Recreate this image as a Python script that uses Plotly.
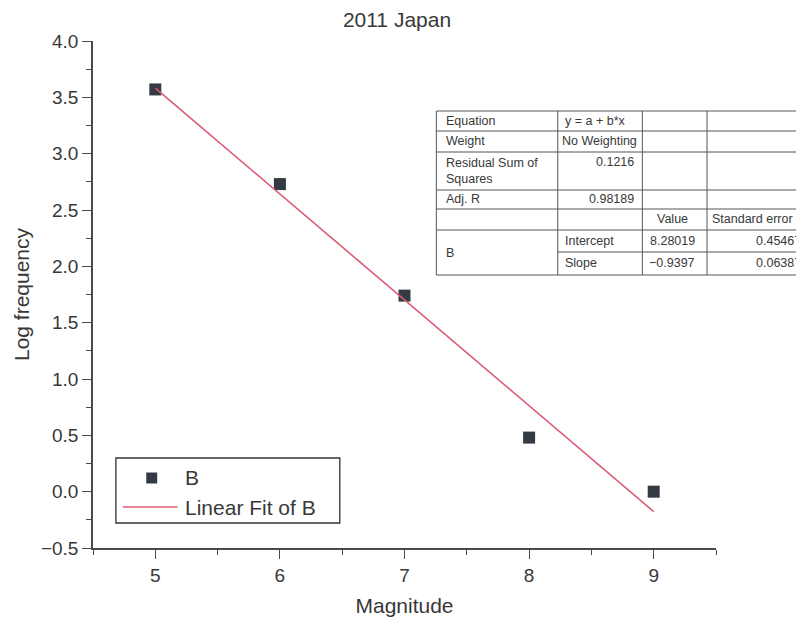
import plotly.graph_objects as go

# ---- data ----
magnitude = [5, 6, 7, 8, 9]
log_freq = [3.57, 2.73, 1.74, 0.48, 0.0]
fit_intercept = 8.28019
fit_slope = -0.9397
fit_x = [5, 9]
fit_y = [fit_intercept + fit_slope * x for x in fit_x]

x_ticks = [5, 6, 7, 8, 9]
y_ticks = [-0.5, 0.0, 0.5, 1.0, 1.5, 2.0, 2.5, 3.0, 3.5, 4.0]
y_tick_labels = ["\u22120.5", "0.0", "0.5", "1.0", "1.5", "2.0", "2.5", "3.0", "3.5", "4.0"]

legend_labels = ["B", "Linear Fit of B"]

table_cells = [
    "Equation", "y = a + b*x", "Weight", "No Weighting",
    "Residual Sum of<br>Squares", "0.1216", "Adj. R", "0.98189",
    "Value", "Standard error", "B", "Intercept", "8.28019", "0.45467",
    "Slope", "\u22120.9397", "0.06387",
]

# ---- layout geometry (screen pixels) ----
W, H = 804, 627
OFF = 8  # page body margin
L, R, T, B = 90, 716, 41, 548

def px(x):
    return (x - L) / (R - L)

def py(y):
    return (B - y) / (B - T)

TXT = "#383838"
AX = "#4a4a4a"
FONT = "Liberation Sans, Arial, sans-serif"
MARK = "#343a44"
LINE = "#dc5a72"

fig = go.Figure()
fig.add_trace(go.Scatter(
    x=magnitude, y=log_freq, mode="markers", name=legend_labels[0],
    marker=dict(symbol="square", size=12, color=MARK), showlegend=False,
))
fig.add_trace(go.Scatter(
    x=fit_x, y=fit_y, mode="lines", name=legend_labels[1],
    line=dict(color=LINE, width=1.6), showlegend=False,
))

shapes = []
annotations = []

# ---- stats table ----
cx = [435, 557, 642, 707, 840]
ry = [111, 131, 152, 190, 209, 230, 252, 275]
lc = "#555555"
for i, y in enumerate(ry):
    x0 = cx[1] if i == 6 else cx[0]
    shapes.append(dict(type="line", xref="paper", yref="paper",
                       x0=px(x0), x1=px(cx[-1]), y0=py(y), y1=py(y),
                       line=dict(color=lc, width=1)))
for x in cx[:-1]:
    shapes.append(dict(type="line", xref="paper", yref="paper",
                       x0=px(x), x1=px(x), y0=py(ry[0]), y1=py(ry[-1]),
                       line=dict(color=lc, width=1)))

tf = dict(family=FONT, size=12.5, color=TXT)

def cell(text, x, y, anchor):
    annotations.append(dict(text=text, x=px(x), y=py(y), xref="paper", yref="paper",
                            xanchor=anchor, yanchor="middle", showarrow=False,
                            font=tf, align="left"))

pos = [
    (443, 121, "left"), (562, 121, "left"), (443, 141, "left"), (599, 141, "center"),
    (443, 171, "left"), (636, 162, "right"), (443, 199, "left"), (636, 199, "right"),
    (672, 219, "center"), (710, 219, "left"), (443, 253, "left"), (562, 241, "left"),
    (697, 241, "right"), (803, 241, "right"), (562, 263, "left"), (697, 263, "right"),
    (803, 263, "right"),
]
for t, (x, y, a) in zip(table_cells, pos):
    cell(t, x, y, a)

# ---- manual legend ----
shapes.append(dict(type="rect", xref="paper", yref="paper",
                   x0=px(113), x1=px(338), y0=py(458), y1=py(523),
                   line=dict(color="#333333", width=1.3), fillcolor="white", layer="above"))
shapes.append(dict(type="rect", xref="paper", yref="paper",
                   x0=px(143.5), x1=px(154.5), y0=py(472.5), y1=py(483.5),
                   line=dict(width=0), fillcolor=MARK, layer="above"))
shapes.append(dict(type="line", xref="paper", yref="paper",
                   x0=px(120), x1=px(175), y0=py(507), y1=py(507),
                   line=dict(color=LINE, width=1.6), layer="above"))
for lab, y in zip(legend_labels, [477, 507]):
    annotations.append(dict(text=lab, x=px(180), y=py(y), xref="paper", yref="paper",
                            xanchor="left", yanchor="middle", showarrow=False,
                            font=dict(family=FONT, size=21, color=TXT)))

fig.update_layout(
    width=W, height=H,
    margin=dict(l=L - OFF, r=W + OFF - R, t=T - OFF, b=H + OFF - B),
    paper_bgcolor="white", plot_bgcolor="white",
    font=dict(family=FONT, size=19, color=TXT),
    showlegend=False,
    title=dict(text="2011 Japan", x=(397 - OFF) / W, xref="container",
               y=1 - (20 - OFF) / H, yref="container", xanchor="center", yanchor="middle",
               font=dict(size=21, color=TXT)),
    xaxis=dict(range=[4.5, 9.5], tickvals=x_ticks, ticks="outside", ticklen=9,
               tickwidth=1.2, tickcolor=AX, showline=True, linecolor=AX, linewidth=1.5,
               showgrid=False, zeroline=False, tickfont=dict(size=19, color=TXT),
               minor=dict(dtick=0.5, tick0=4.5, ticks="outside", ticklen=5, tickcolor=AX),
               title=dict(text="Magnitude", font=dict(size=21, color=TXT), standoff=14)),
    yaxis=dict(range=[-0.5, 4.0], tickvals=y_ticks, ticktext=y_tick_labels,
               ticks="outside", ticklen=9, tickwidth=1.2, tickcolor=AX,
               showline=True, linecolor=AX, linewidth=1.5, showgrid=False, zeroline=False,
               tickfont=dict(size=19, color=TXT),
               minor=dict(dtick=0.25, tick0=-0.5, ticks="outside", ticklen=5, tickcolor=AX),
               title=dict(text="Log frequency", font=dict(size=21, color=TXT), standoff=6)),
    shapes=shapes, annotations=annotations,
)

fig.write_html("out.html")
